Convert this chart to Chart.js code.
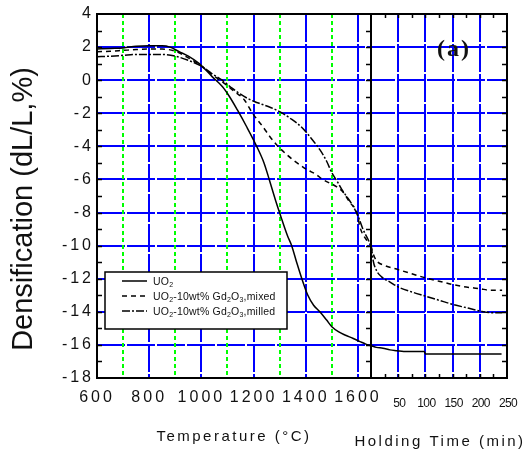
<!DOCTYPE html>
<html>
<head>
<meta charset="utf-8">
<script src="https://cdn.jsdelivr.net/npm/chart.js@4.4.1/dist/chart.umd.min.js"></script>
<style>
 body{margin:0;background:#fff;}
 #wrap{width:530px;height:459px;}
</style>
</head>
<body>
<div id="wrap"><canvas id="densChart" width="530" height="459"></canvas></div>
<script>
// Heating ramp: temperature (degC) vs shrinkage (%)
var tempUO2   = [600,650,700,750,800,850,880,915,950,992,1042,1081,1108,1138,1173,1212,1240,1260,1285,1308,1330,1346,1365,1385,1408,1430,1454,1480,1500,1525,1550,1580,1608,1630,1650];
var densUO2   = [1.88,1.92,1.95,2.05,2.08,2.08,2.0,1.72,1.45,1.0,0.2,-0.4,-1.0,-1.8,-2.8,-4.0,-5.0,-6.0,-7.3,-8.4,-9.4,-10.0,-11.0,-12.0,-13.0,-13.6,-14.0,-14.5,-14.9,-15.2,-15.4,-15.6,-15.8,-15.95,-16.05];

var tempMixed = [600,650,700,750,800,850,900,950,1000,1040,1080,1120,1165,1196,1235,1262,1288,1320,1350,1404,1440,1465,1519,1545,1569,1596,1608,1635,1650];
var densMixed = [1.72,1.75,1.8,1.85,1.88,1.88,1.75,1.35,0.85,0.35,-0.1,-0.6,-1.2,-2.0,-2.8,-3.4,-3.9,-4.4,-4.8,-5.4,-5.7,-6.0,-6.45,-6.8,-7.4,-8.0,-8.9,-9.7,-10.0];

var tempMilled = [600,650,700,750,800,850,900,950,1000,1040,1080,1119,1150,1177,1205,1231,1265,1300,1340,1388,1420,1454,1480,1500,1520,1538,1560,1577,1600,1619,1638,1650];
var densMilled = [1.42,1.45,1.5,1.55,1.55,1.55,1.45,1.2,0.85,0.4,0.0,-0.5,-0.85,-1.1,-1.3,-1.45,-1.65,-1.9,-2.3,-2.9,-3.5,-4.2,-4.9,-5.6,-6.1,-6.6,-7.1,-7.5,-8.2,-9.0,-9.6,-10.0];

// Isothermal hold: time (min) vs shrinkage (%)
var holdUO2     = [0,10,22,35,48,60,98,100,240];
var holdDensUO2 = [-16.05,-16.15,-16.2,-16.3,-16.35,-16.4,-16.4,-16.55,-16.55];

var holdMixed     = [0,3,10,25,50,75,100,125,150,175,200,220,241];
var holdDensMixed = [-10.0,-10.4,-10.9,-11.2,-11.45,-11.7,-11.95,-12.15,-12.35,-12.5,-12.6,-12.7,-12.7];

var holdMilled     = [0,2,4,10,20,35,50,75,100,125,150,175,200,220,241];
var holdDensMilled = [-10.0,-10.4,-10.9,-11.5,-11.9,-12.2,-12.5,-12.8,-13.05,-13.3,-13.55,-13.75,-13.95,-14.05,-14.05];

// axis ticks
var tempTicks  = [600,800,1000,1200,1400,1600];
var tempDotted = [700,900,1100,1300,1500];
var holdTicks  = [50,100,150,200,250];
var densTicks  = [4,2,0,-2,-4,-6,-8,-10,-12,-14,-16,-18];

var dashMixed  = [5,4];
var dashMilled = [8,2,2,2];

function pts(xs, ys) {
  return xs.map(function (x, i) { return {x: x, y: ys[i]}; });
}

function line(label, data, axis, dash) {
  return {
    label: label,
    data: data,
    xAxisID: axis,
    borderColor: '#000',
    borderWidth: 1.5,
    borderDash: dash,
    pointRadius: 0,
    fill: false,
    cubicInterpolationMode: 'monotone'
  };
}

function plain(v) { return String(v); }

// legend rows: [text, subscript?] pieces
var legendRows = [
  {dash: [], parts: [['UO',0],['2',1]]},
  {dash: dashMixed, parts: [['UO',0],['2',1],['-10wt% Gd',0],['2',1],['O',0],['3',1],[',mixed',0]]},
  {dash: dashMilled, parts: [['UO',0],['2',1],['-10wt% Gd',0],['2',1],['O',0],['3',1],[',milled',0]]}
];

var decor = {
  id: 'decor',
  beforeDraw: function (chart) {
    chart.ctx.letterSpacing = '3px';
  },
  beforeDatasetsDraw: function (chart) {
    var ctx = chart.ctx, a = chart.chartArea, xT = chart.scales.xT;
    ctx.save();
    ctx.strokeStyle = '#00ff00';
    ctx.lineWidth = 2;
    ctx.setLineDash([4,3]);
    tempDotted.forEach(function (t) {
      var x = Math.round(xT.getPixelForValue(t));
      ctx.beginPath();
      ctx.moveTo(x, a.top);
      ctx.lineTo(x, a.bottom);
      ctx.stroke();
    });
    ctx.restore();
  },
  afterDraw: function (chart) {
    var ctx = chart.ctx, a = chart.chartArea;
    var xT = chart.scales.xT, xH = chart.scales.xH, y = chart.scales.y;
    var split = xH.left;
    ctx.save();
    ctx.letterSpacing = '0px';

    // frame and panel divider
    ctx.strokeStyle = '#000';
    ctx.lineWidth = 2;
    ctx.strokeRect(a.left, a.top, a.right - a.left, a.bottom - a.top);
    ctx.beginPath();
    ctx.moveTo(split, a.top);
    ctx.lineTo(split, a.bottom);
    ctx.stroke();

    // inner ticks every 1 %
    ctx.lineWidth = 1.5;
    ctx.beginPath();
    for (var v = y.min + 1; v < y.max; v++) {
      var py = Math.round(y.getPixelForValue(v)) + 0.5;
      ctx.moveTo(a.left, py); ctx.lineTo(a.left + 5, py);
      ctx.moveTo(split - 5, py); ctx.lineTo(split, py);
      ctx.moveTo(a.right - 5, py); ctx.lineTo(a.right, py);
    }
    for (var t = 25; t < xH.max; t += 25) {
      var px = Math.round(xH.getPixelForValue(t)) + 0.5;
      ctx.moveTo(px, a.bottom); ctx.lineTo(px, a.bottom - 4);
      ctx.moveTo(px, a.top); ctx.lineTo(px, a.top + 4);
    }
    ctx.stroke();

    // holding time tick labels
    ctx.fillStyle = '#111';
    ctx.font = '12px "Liberation Sans", Arial, sans-serif';
    ctx.letterSpacing = '-0.6px';
    ctx.textAlign = 'center';
    ctx.textBaseline = 'middle';
    holdTicks.forEach(function (t) {
      ctx.fillText(String(t), xH.getPixelForValue(t) + 1, a.bottom + 26);
    });

    // axis titles
    ctx.font = '15px "Liberation Sans", Arial, sans-serif';
    ctx.letterSpacing = '2.5px';
    ctx.fillText('Temperature (\u00B0C)', (xT.left + xT.right) / 2, a.bottom + 59);
    ctx.fillText('Holding Time (min)', (xH.left + xH.right) / 2 + 1, a.bottom + 64);

    ctx.save();
    ctx.letterSpacing = '0px';
    ctx.translate(24, (a.top + a.bottom) / 2 + 13);
    ctx.rotate(-Math.PI / 2);
    ctx.font = '29px "Liberation Sans", Arial, sans-serif';
    ctx.fillText('Densification (dL/L,%)', 0, 0);
    ctx.restore();

    // panel tag
    ctx.font = 'bold 24px "Liberation Serif", "Times New Roman", serif';
    ctx.letterSpacing = '2px';
    ctx.fillText('(a)', 454, 50);

    // legend box
    var bx = 105, by = 272, bw = 182, bh = 57;
    ctx.fillStyle = '#fff';
    ctx.fillRect(bx, by, bw, bh);
    ctx.lineWidth = 1.5;
    ctx.strokeStyle = '#000';
    ctx.strokeRect(bx, by, bw, bh);
    ctx.letterSpacing = '0.2px';
    ctx.textAlign = 'left';
    ctx.textBaseline = 'alphabetic';
    legendRows.forEach(function (row, i) {
      var ry = by + 9 + i * 15;
      ctx.strokeStyle = '#000';
      ctx.lineWidth = 1.5;
      ctx.setLineDash(row.dash);
      ctx.beginPath();
      ctx.moveTo(bx + 17, ry);
      ctx.lineTo(bx + 42, ry);
      ctx.stroke();
      ctx.setLineDash([]);
      var tx = bx + 48;
      ctx.fillStyle = '#111';
      row.parts.forEach(function (p) {
        ctx.font = (p[1] ? '7px' : '10.5px') + ' "Liberation Sans", Arial, sans-serif';
        ctx.fillText(p[0], tx, ry + (p[1] ? 6 : 4));
        tx += ctx.measureText(p[0]).width;
      });
    });

    ctx.restore();
  }
};

var tickFont = {family: '"Liberation Sans", Arial, sans-serif', size: 16};
var blueGrid = {color: '#0000ff', lineWidth: 2, drawTicks: false};

new Chart(document.getElementById('densChart'), {
  type: 'line',
  data: {
    datasets: [
      line('UO2', pts(tempUO2, densUO2), 'xT', []),
      line('UO2-10wt% Gd2O3,mixed', pts(tempMixed, densMixed), 'xT', dashMixed),
      line('UO2-10wt% Gd2O3,milled', pts(tempMilled, densMilled), 'xT', dashMilled),
      line('UO2 hold', pts(holdUO2, holdDensUO2), 'xH', []),
      line('mixed hold', pts(holdMixed, holdDensMixed), 'xH', dashMixed),
      line('milled hold', pts(holdMilled, holdDensMilled), 'xH', dashMilled)
    ]
  },
  options: {
    responsive: false,
    animation: false,
    devicePixelRatio: 1,
    layout: {padding: {top: 14, right: 23, left: 0, bottom: 0}},
    plugins: {legend: {display: false}, tooltip: {enabled: false}},
    scales: {
      xT: {
        type: 'linear', position: 'bottom', min: 600, max: 1650,
        stack: 'bottom', stackWeight: 274,
        afterBuildTicks: function (s) { s.ticks = tempTicks.map(function (v) { return {value: v}; }); },
        afterFit: function (s) { s.height = 81; },
        grid: blueGrid,
        border: {display: false, dash: [28,2]},
        ticks: {color: '#111', font: tickFont, padding: 10, maxRotation: 0, autoSkip: false, callback: plain}
      },
      xH: {
        type: 'linear', position: 'bottom', min: 0, max: 250,
        stack: 'bottom', stackWeight: 136,
        afterBuildTicks: function (s) { s.ticks = holdTicks.slice(0, 4).map(function (v) { return {value: v}; }); },
        afterFit: function (s) { s.height = 81; },
        grid: blueGrid,
        border: {display: false, dash: [28,2]},
        ticks: {display: false}
      },
      y: {
        type: 'linear', position: 'left', min: -18, max: 4,
        afterBuildTicks: function (s) { s.ticks = densTicks.map(function (v) { return {value: v}; }); },
        afterFit: function (s) { s.width = 97; },
        grid: blueGrid,
        border: {display: false, dash: [28,2]},
        ticks: {color: '#111', font: tickFont, padding: 3, callback: plain}
      }
    }
  },
  plugins: [decor]
});
</script>
</body>
</html>
